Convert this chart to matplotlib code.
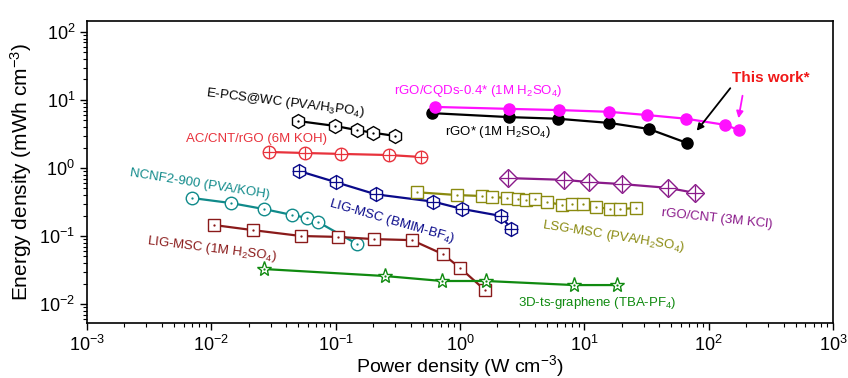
import numpy as np
import matplotlib.pyplot as plt

plt.rcParams['font.family'] = ['Liberation Sans', 'DejaVu Sans']
plt.rcParams['mathtext.default'] = 'regular'

# power density (W cm-3), energy density (mWh cm-3)
cqd_x = [0.63, 2.48, 6.27, 15.8, 32, 66, 136, 176]
cqd_y = [7.9, 7.4, 7.1, 6.7, 6.0, 5.3, 4.3, 3.6]

rgo_x = [0.60, 2.48, 6.1, 15.8, 33, 67]
rgo_y = [6.4, 5.6, 5.3, 4.6, 3.75, 2.33]

epcs_x = [0.050, 0.099, 0.149, 0.20, 0.30]
epcs_y = [4.9, 4.15, 3.6, 3.3, 2.96]

accnt_x = [0.029, 0.057, 0.11, 0.27, 0.49]
accnt_y = [1.72, 1.66, 1.61, 1.55, 1.45]

bmim_x = [0.051, 0.10, 0.21, 0.61, 1.04, 2.14, 2.58]
bmim_y = [0.90, 0.62, 0.41, 0.32, 0.25, 0.197, 0.127]

lsg_x = [0.45, 0.95, 1.51, 1.81, 2.39, 2.93, 3.40, 4.02, 5.02, 6.63, 7.98, 9.78,
         12.4, 16.1, 19.4, 26.1]
lsg_y = [0.44, 0.40, 0.387, 0.375, 0.362, 0.350, 0.338, 0.350, 0.316, 0.286,
         0.296, 0.296, 0.267, 0.249, 0.249, 0.258]

rgocnt_x = [2.44, 6.88, 10.9, 20.1, 47.2, 77.8]
rgocnt_y = [0.71, 0.67, 0.62, 0.58, 0.51, 0.43]

ncnf_x = [0.0070, 0.0144, 0.0265, 0.0446, 0.059, 0.072, 0.149]
ncnf_y = [0.362, 0.305, 0.249, 0.204, 0.184, 0.161, 0.076]

ligh_x = [0.0105, 0.0216, 0.0527, 0.104, 0.204, 0.41, 0.73, 1.0, 1.59]
ligh_y = [0.145, 0.122, 0.100, 0.097, 0.090, 0.087, 0.054, 0.034, 0.016]

ts_x = [0.0265, 0.249, 0.718, 1.62, 8.28, 18.4]
ts_y = [0.0327, 0.0258, 0.0218, 0.0218, 0.019, 0.019]

fig = plt.figure(figsize=(8.48, 3.78), dpi=100)
ax = fig.add_axes([0.1026, 0.1455, 0.8797, 0.799])

lw = 1.6

def series(x, y, color, marker, ms, inner=None, ims=None, filled=False):
    if filled:
        ax.plot(x, y, color=color, lw=lw, marker=marker, ms=ms, mfc=color, mec=color)
    else:
        ax.plot(x, y, color=color, lw=lw, marker=marker, ms=ms, mfc='white',
                mec=color, mew=1.0)
    if inner is not None:
        ax.plot(x, y, ls='none', marker=inner, ms=ims, color=color, mew=0.9)

series(epcs_x, epcs_y, 'black', 'h', 10, '.', 1.5)
series(accnt_x, accnt_y, '#e8323c', 'o', 9, '+', 9)
series(bmim_x, bmim_y, '#0a0a8a', 'h', 10, '+', 10)
series(lsg_x, lsg_y, '#8a8a10', 's', 8, '.', 1.5)
series(rgocnt_x, rgocnt_y, '#8a1a8a', 'D', 9, '+', 12)
series(ncnf_x, ncnf_y, '#108a8a', 'o', 9, '.', 1.5)
series(ligh_x, ligh_y, '#8a1a1a', 's', 8, '.', 1.5)
series(ts_x, ts_y, '#108a10', '*', 11, '.', 1.5)
series(rgo_x, rgo_y, 'black', 'o', 8, filled=True)
series(cqd_x, cqd_y, '#ff10ff', 'o', 8, filled=True)

ax.set_xscale('log')
ax.set_yscale('log')
ax.set_xlim(1e-3, 1e3)
ax.set_ylim(0.00526, 145)
ax.set_xlabel(r'Power density (W cm$^{-3}$)', fontsize=14)
ax.xaxis.set_label_coords(0.5, -0.1)
ax.set_ylabel(r'Energy density (mWh cm$^{-3}$)', fontsize=15, labelpad=4)
ax.tick_params(which='both', direction='out', top=False, right=False, labelsize=13)
ax.tick_params(which='major', length=5, width=1)
ax.tick_params(which='minor', length=3, width=0.8)
for s in ax.spines.values():
    s.set_linewidth(1.2)

def label(px, py, s, color, rot=0, size=9.5, **kw):
    ax.text(px / 848, 1 - py / 378, s, color=color, rotation=rot, ha='center',
            va='center', fontsize=size, transform=fig.transFigure,
            rotation_mode='anchor', **kw)

label(285, 103, r'E-PCS@WC (PVA/H$_3$PO$_4$)', 'black', -7)
label(257, 139, 'AC/CNT/rGO (6M KOH)', '#e8323c', 0)
label(200, 184, 'NCNF2-900 (PVA/KOH)', '#108a8a', -9)
label(392, 221, r'LIG-MSC (BMIM-BF$_4$)', '#0a0a8a', -16)
label(212, 249, r'LIG-MSC (1M H$_2$SO$_4$)', '#8a1a1a', -7)
label(478, 91, r'rGO/CQDs-0.4* (1M H$_2$SO$_4$)', '#ff10ff', 0)
label(498, 132, r'rGO* (1M H$_2$SO$_4$)', 'black', 0)
label(613, 236, r'LSG-MSC (PVA/H$_2$SO$_4$)', '#8a8a10', -9)
label(717, 219, 'rGO/CNT (3M KCl)', '#8a1a8a', -6)
label(597, 303, r'3D-ts-graphene (TBA-PF$_4$)', '#108a10', 0)
label(771, 78, 'This work*', '#f01818', 0, size=11, fontweight='bold')

ax.annotate('', xy=(695 / 848, 1 - 133 / 378), xytext=(732 / 848, 1 - 86 / 378),
            xycoords='figure fraction', textcoords='figure fraction',
            arrowprops=dict(arrowstyle='-|>', color='black', lw=1.3))
ax.annotate('', xy=(738 / 848, 1 - 121 / 378), xytext=(743 / 848, 1 - 93 / 378),
            xycoords='figure fraction', textcoords='figure fraction',
            arrowprops=dict(arrowstyle='-|>', color='#ff10ff', lw=1.3))

fig.savefig('out.png', dpi=100)
